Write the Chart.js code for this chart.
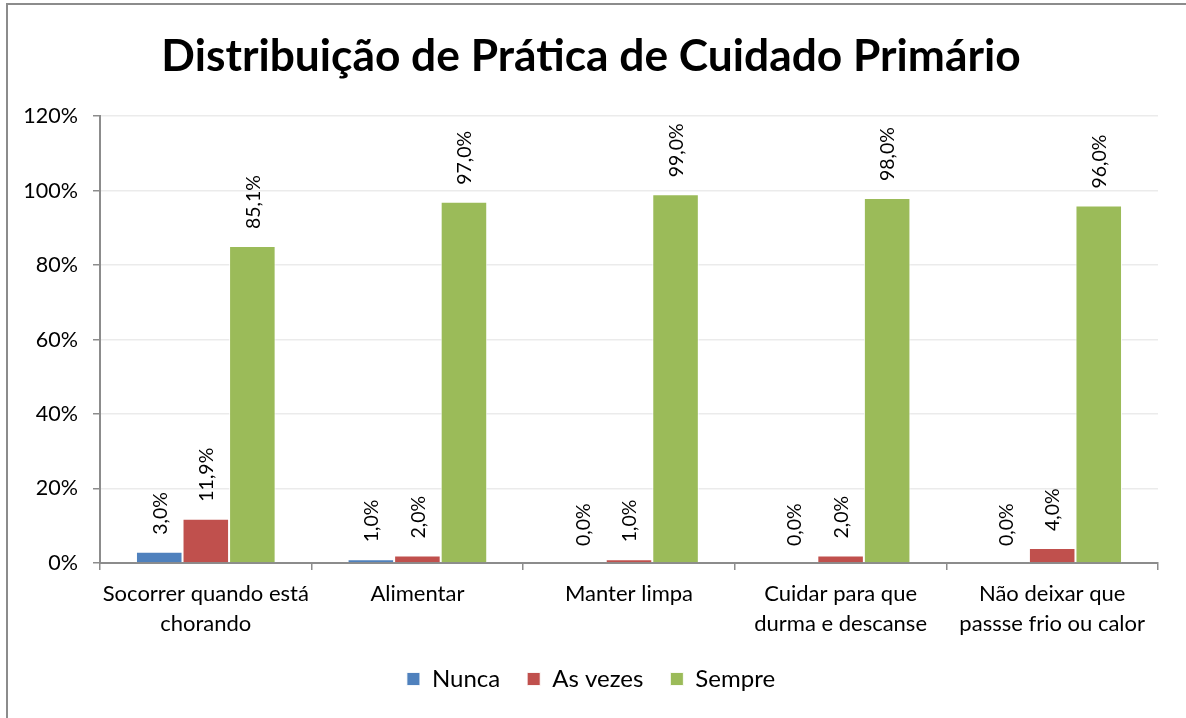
<!DOCTYPE html>
<html>
<head>
<meta charset="utf-8">
<script src="https://cdn.jsdelivr.net/npm/chart.js@4.4.1/dist/chart.umd.min.js"></script>
<style>
  html, body { margin: 0; padding: 0; background: #fff; }
  #wrap { position: relative; width: 1186px; height: 718px; overflow: hidden; }
  #frame { position: absolute; left: 6px; top: 3px; width: 1400px; height: 900px;
           border-left: 2px solid #8c8c8c; border-top: 2px solid #8c8c8c; pointer-events: none; }
  canvas { position: absolute; left: 0; top: 0; }
</style>
</head>
<body>
<div id="wrap">
  <canvas id="c" width="1186" height="718"></canvas>
  <div id="frame"></div>
</div>
<script>
const titleText = 'Distribuição de Prática de Cuidado Primário';
const categories = [
  ['Socorrer quando está', 'chorando'],
  'Alimentar',
  'Manter limpa',
  ['Cuidar para que', 'durma e descanse'],
  ['Não deixar que', 'passse frio ou calor']
];
const seriesNames = ['Nunca', 'As vezes', 'Sempre'];
const nunca = [3.0, 1.0, 0.0, 0.0, 0.0];
const asVezes = [11.9, 2.0, 1.0, 2.0, 4.0];
const sempre = [85.1, 97.0, 99.0, 98.0, 96.0];
const yTicks = [0, 20, 40, 60, 80, 100, 120];
const colors = ['#4F81BD', '#C0504D', '#9BBB59'];

const FONT = 'Lato, "Open Sans", sans-serif';

const valueLabels = {
  id: 'valueLabels',
  afterDatasetsDraw(chart) {
    const ctx = chart.ctx;
    ctx.save();
    ctx.font = '19.5px ' + FONT;
    ctx.fillStyle = '#000';
    ctx.textAlign = 'left';
    ctx.textBaseline = 'middle';
    chart.data.datasets.forEach((ds, i) => {
      const meta = chart.getDatasetMeta(i);
      meta.data.forEach((bar, j) => {
        const v = ds.data[j];
        const txt = v.toFixed(1).replace('.', ',') + '%';
        ctx.save();
        ctx.translate(bar.x + 1, bar.y - 17);
        ctx.rotate(-Math.PI / 2);
        ctx.fillText(txt, 0, 0);
        ctx.restore();
      });
    });
    ctx.restore();
  }
};

const chart = new Chart(document.getElementById('c'), {
  type: 'bar',
  data: {
    labels: categories,
    datasets: [
      { label: seriesNames[0], data: nunca, backgroundColor: colors[0] },
      { label: seriesNames[1], data: asVezes, backgroundColor: colors[1] },
      { label: seriesNames[2], data: sempre, backgroundColor: colors[2] }
    ].map(d => Object.assign(d, {
      borderColor: 'rgba(255,255,255,0.85)', borderWidth: 1,
      categoryPercentage: 0.66, barPercentage: 1.0
    }))
  },
  options: {
    responsive: false,
    animation: false,
    devicePixelRatio: 1,
    layout: { padding: { left: 24, right: 28, top: 0, bottom: 17 } },
    plugins: {
      title: {
        display: true,
        text: titleText,
        color: '#000',
        font: { family: FONT, size: 44.3, weight: 'bold', lineHeight: 1.2 },
        padding: { top: 30, bottom: 33 }
      },
      legend: {
        position: 'bottom',
        labels: {
          color: '#000',
          font: { family: FONT, size: 24 },
          boxWidth: 13, boxHeight: 13,
          padding: 27
        }
      },
      tooltip: { enabled: false }
    },
    scales: {
      x: {
        grid: { display: true, drawOnChartArea: false, offset: true, tickLength: 7,
                color: '#8c8c8c', tickColor: '#8c8c8c', lineWidth: 1.5 },
        border: { color: '#8c8c8c', width: 2 },
        ticks: { color: '#000', font: { family: FONT, size: 22, lineHeight: 1.36 },
                 padding: 9, maxRotation: 0, autoSkip: false },
        afterFit(scale) { scale.height = 77; }
      },
      y: {
        min: 0, max: 120,
        afterBuildTicks(scale) { scale.ticks = yTicks.map(v => ({ value: v })); },
        grid: { color: '#ebebeb', lineWidth: 1.5, tickLength: 7, tickColor: '#8c8c8c' },
        border: { color: '#8c8c8c', width: 2 },
        ticks: { color: '#000', font: { family: FONT, size: 21.5 }, padding: 15,
                 callback: v => v + '%' },
        afterFit(scale) { scale.width = 76; }
      }
    }
  },
  plugins: [valueLabels]
});
</script>
</body>
</html>
